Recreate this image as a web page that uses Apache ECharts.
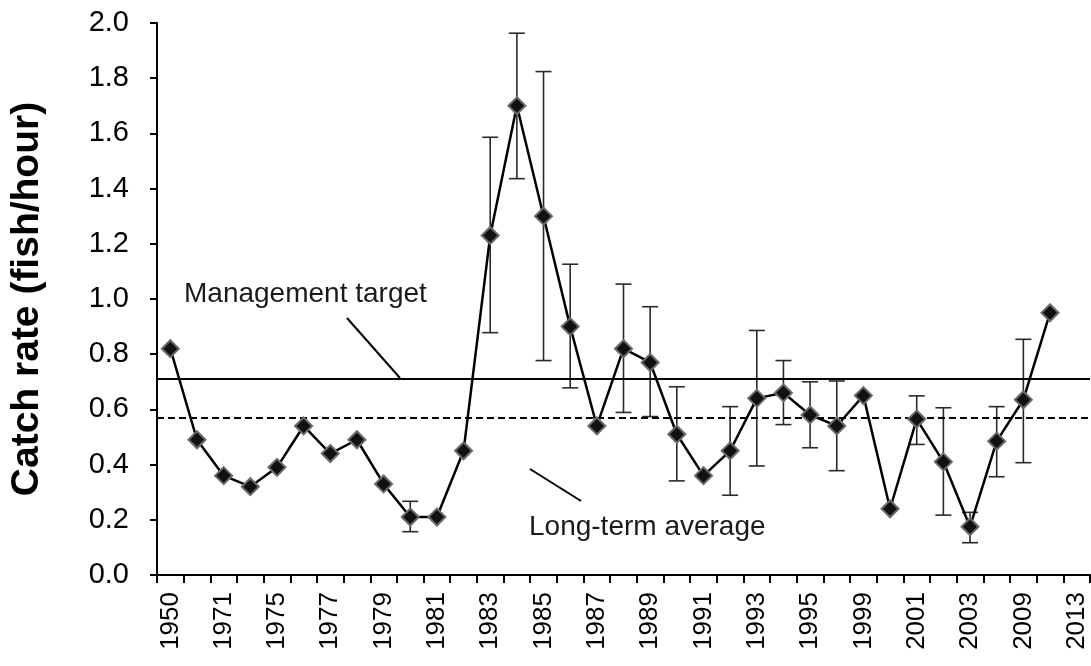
<!DOCTYPE html>
<html>
<head>
<meta charset="utf-8">
<script src="https://cdn.jsdelivr.net/npm/echarts@6/dist/echarts.min.js"></script>
<style>
html,body{margin:0;padding:0;background:#fff;}
#chart{width:1091px;height:666px;}
</style>
</head>
<body>
<div id="chart"></div>
<script>
const years = ['1950','1970','1971','1973','1975','1976','1977','1978','1979','1980','1981','1982','1983','1984','1985','1986','1987','1988','1989','1990','1991','1992','1993','1994','1995','1997','1999','2000','2001','2002','2003','2005','2009','2011','2013'];
const catchRate = [0.82,0.49,0.36,0.32,0.39,0.54,0.44,0.49,0.33,0.21,0.21,0.45,1.23,1.70,1.30,0.90,0.54,0.82,0.77,0.51,0.36,0.45,0.64,0.66,0.58,0.54,0.65,0.24,0.565,0.41,0.175,0.485,0.635,0.95,null];
const errLow  = [null,null,null,null,null,null,null,null,null,0.157,null,null,0.878,1.436,0.777,0.678,null,0.589,0.574,0.341,null,0.289,0.395,0.545,0.461,0.378,null,null,0.473,0.217,0.117,0.356,0.407,null,null];
const errHigh = [null,null,null,null,null,null,null,null,null,0.267,null,null,1.586,1.963,1.824,1.126,null,1.054,0.972,0.682,null,0.610,0.886,0.777,0.700,0.703,null,null,0.649,0.606,0.227,0.610,0.854,null,null];
const managementTarget = 0.71;
const longTermAverage = 0.57;
const yTicks = [0,0.2,0.4,0.6,0.8,1.0,1.2,1.4,1.6,1.8,2.0];

const errData = [];
errLow.forEach((lo, i) => { if (lo !== null && errHigh[i] !== null) errData.push([i, lo, errHigh[i]]); });

const FONT = '"Liberation Sans", Arial, sans-serif';
const chart = echarts.init(document.getElementById('chart'), null, {renderer: 'canvas'});

const option = {
  animation: false,
  backgroundColor: '#ffffff',
  grid: {left: 156, right: 1, top: 23, bottom: 91, containLabel: false},
  xAxis: {
    type: 'category',
    data: years,
    boundaryGap: true,
    axisLine: {show: true, lineStyle: {color: '#000', width: 2}},
    axisTick: {show: true, interval: 0, length: 8, lineStyle: {color: '#000', width: 2}},
    axisLabel: {interval: 1, rotate: 90, fontSize: 26, color: '#000', fontFamily: FONT, margin: 17},
    splitLine: {show: false}
  },
  yAxis: {
    type: 'value',
    min: yTicks[0],
    max: yTicks[yTicks.length - 1],
    interval: 0.2,
    name: 'Catch rate (fish/hour)',
    nameLocation: 'middle',
    nameGap: 110,
    nameRotate: 90,
    nameTextStyle: {fontSize: 39, fontWeight: 'bold', color: '#000', fontFamily: FONT},
    axisLine: {show: true, lineStyle: {color: '#000', width: 2}},
    axisTick: {show: true, length: 7, lineStyle: {color: '#000', width: 2}},
    axisLabel: {fontSize: 29, color: '#000', fontFamily: FONT, margin: 28, formatter: v => v.toFixed(1)},
    splitLine: {show: false}
  },
  series: [
    {
      type: 'custom',
      name: 'error',
      z: 2,
      silent: true,
      data: errData,
      renderItem: function (params, api) {
        const lo = api.coord([api.value(0), api.value(1)]);
        const hi = api.coord([api.value(0), api.value(2)]);
        const w = 8;
        const st = {stroke: '#2a2a2a', lineWidth: 1.6};
        return {
          type: 'group',
          children: [
            {type: 'line', shape: {x1: lo[0], y1: lo[1], x2: hi[0], y2: hi[1]}, style: st},
            {type: 'line', shape: {x1: lo[0] - w, y1: lo[1], x2: lo[0] + w, y2: lo[1]}, style: st},
            {type: 'line', shape: {x1: hi[0] - w, y1: hi[1], x2: hi[0] + w, y2: hi[1]}, style: st}
          ]
        };
      }
    },
    {
      type: 'line',
      name: 'Catch rate',
      data: catchRate,
      z: 5,
      symbol: 'diamond',
      symbolSize: 17,
      showSymbol: true,
      connectNulls: false,
      lineStyle: {color: '#000', width: 2.5},
      itemStyle: {color: '#111', borderColor: '#6a6a6a', borderWidth: 2},
      markLine: {
        silent: true,
        symbol: 'none',
        label: {show: false},
        animation: false,
        data: [
          {yAxis: managementTarget, lineStyle: {color: '#000', width: 2, type: 'solid'}},
          {yAxis: longTermAverage, lineStyle: {color: '#000', width: 2, type: [7, 4]}}
        ]
      }
    }
  ],
  graphic: [
    {type: 'text', x: 184, y: 294, style: {text: 'Management target', font: '28px ' + FONT, fill: '#1a1a1a', align: 'left', verticalAlign: 'middle'}},
    {type: 'line', shape: {x1: 347, y1: 318, x2: 400, y2: 378}, style: {stroke: '#000', lineWidth: 2}},
    {type: 'text', x: 529, y: 527, style: {text: 'Long-term average', font: '28px ' + FONT, fill: '#1a1a1a', align: 'left', verticalAlign: 'middle'}},
    {type: 'line', shape: {x1: 530, y1: 469, x2: 581, y2: 501}, style: {stroke: '#000', lineWidth: 2}}
  ]
};
chart.setOption(option);
</script>
</body>
</html>
